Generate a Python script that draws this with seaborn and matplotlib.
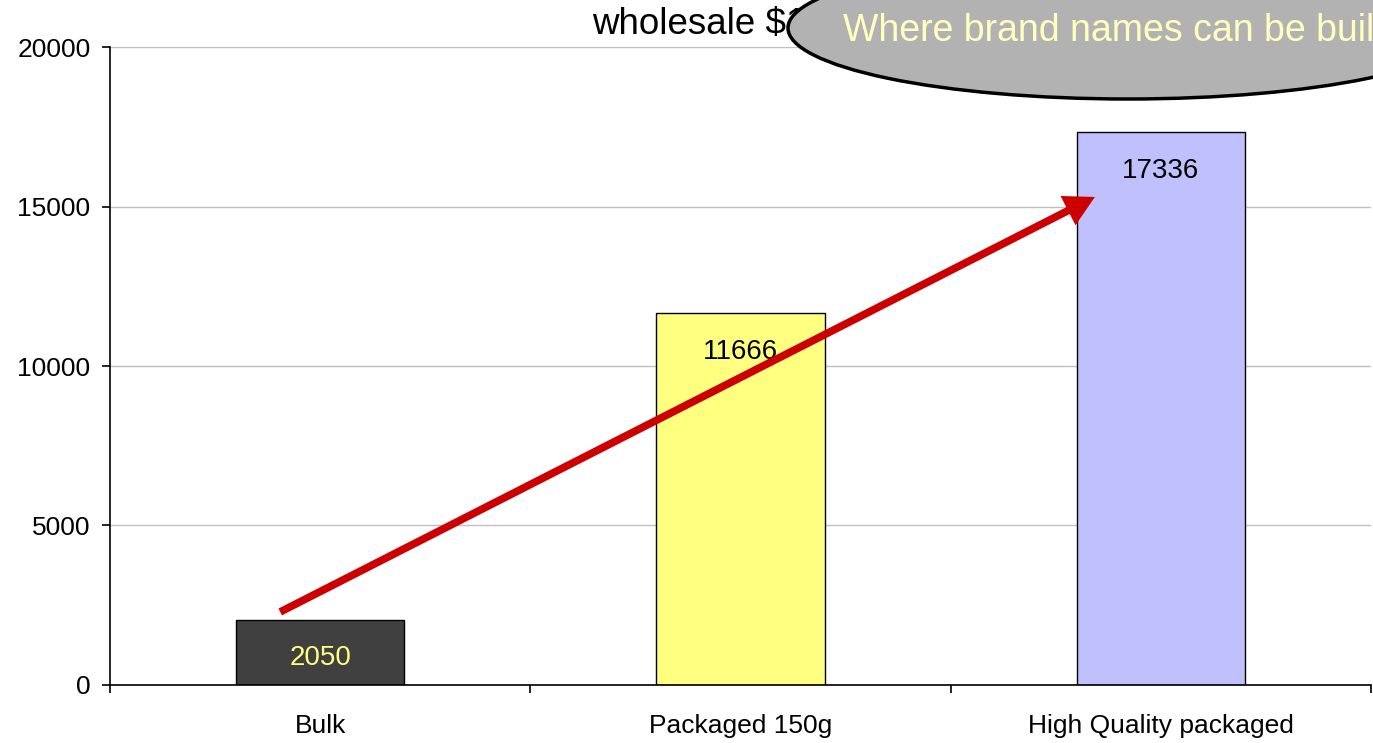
import matplotlib
matplotlib.use("Agg")
import matplotlib.pyplot as plt
from matplotlib.patches import Ellipse
import seaborn as sns
import pandas as pd

categories = ["Bulk", "Packaged 150g", "High Quality packaged"]
values = [2050, 11666, 17336]
bar_colors = ["#404040", "#ffff80", "#c0c0ff"]
label_colors = ["#ffff80", "#000000", "#000000"]
y_ticks = [0, 5000, 10000, 15000, 20000]
title_text = "wholesale $1"
callout_text = "Where brand names can be built"

sns.set_theme(style="white")
plt.rcParams["font.family"] = ["Liberation Sans", "DejaVu Sans"]

df = pd.DataFrame({"category": categories, "value": values})

fig = plt.figure(figsize=(13.73, 7.43), dpi=100)
ax = fig.add_axes([0.0801, 0.0781, 0.9185, 0.8586])

sns.barplot(data=df, x="category", y="value", hue="category",
            palette=bar_colors, saturation=1, width=0.4, edgecolor="black",
            linewidth=1.0, legend=False, ax=ax, zorder=2)

ax.set_xlim(-0.5, 2.5)
ax.set_ylim(0, 20000)
ax.set_yticks(y_ticks)
ax.set_yticklabels([str(v) for v in y_ticks])
ax.yaxis.grid(True, color="#c0c0c0", linewidth=1.0, zorder=0)
ax.set_axisbelow(True)
ax.set_xlabel("")
ax.set_ylabel("")

for side in ("top", "right"):
    ax.spines[side].set_visible(False)
for side in ("left", "bottom"):
    ax.spines[side].set_color("black")
    ax.spines[side].set_linewidth(1.2)

# category labels in the middle, tick marks on the category boundaries
ax.set_xticks([0, 1, 2])
ax.set_xticklabels(categories, fontsize=19, color="black")
ax.set_xticks([-0.5, 0.5, 1.5, 2.5], minor=True)
ax.xaxis.set_tick_params(which="minor", length=6, width=1.2, color="black",
                         direction="out", bottom=True)
ax.xaxis.set_tick_params(which="major", length=0, pad=21)
ax.yaxis.set_tick_params(length=6, width=1.2, color="black", direction="out",
                         left=True, labelsize=19, labelcolor="black", pad=8)

# value labels just inside the top of each bar
for i, (v, c) in enumerate(zip(values, label_colors)):
    ax.annotate(str(v), xy=(i, v), xytext=(0, -28), textcoords="offset points",
                ha="center", va="center", fontsize=20, color=c, zorder=4)

# rising trend arrow
ax.annotate("", xy=(1.843, 15300), xytext=(-0.095, 2290),
            arrowprops=dict(arrowstyle="-|>,head_length=1.1,head_width=0.6",
                            color="#cc0000", lw=5.5, shrinkA=0, shrinkB=0,
                            capstyle="butt", joinstyle="miter"),
            zorder=5)

# title, partly hidden by the callout bubble
fig.text(592 / 1373, 1 - 24 / 743, title_text, fontsize=26.5, color="black",
         ha="left", va="center", zorder=1)

# callout bubble
bubble = Ellipse((1128 / 1373, 1 - 28 / 743), width=680 / 1373, height=142 / 743,
                 transform=fig.transFigure, facecolor="#b2b2b2",
                 edgecolor="black", linewidth=2.5, zorder=10)
fig.patches.append(bubble)
fig.text(843 / 1373, 1 - 31 / 743, callout_text, fontsize=27, color="#ffffc0",
         ha="left", va="center", zorder=11)

fig.savefig("out.png", dpi=100)
